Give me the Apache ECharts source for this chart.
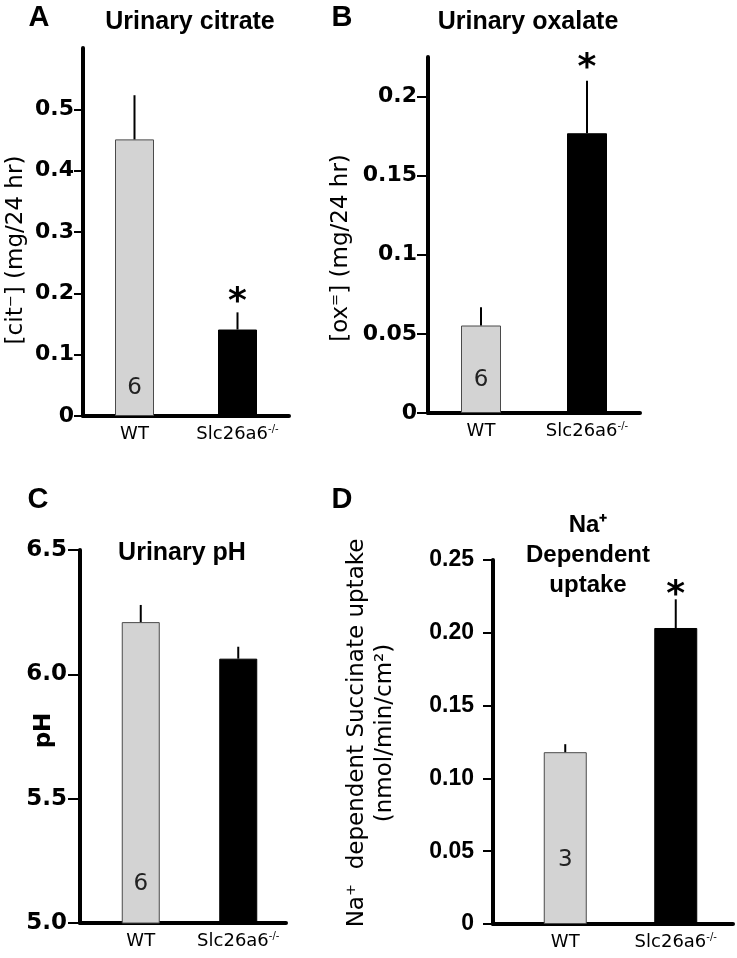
<!DOCTYPE html>
<html>
<head>
<meta charset="utf-8">
<script src="https://cdn.jsdelivr.net/npm/echarts@6/dist/echarts.min.js"></script>
<style>
  html, body { margin: 0; background: #fff; }
  #chart { width: 737px; height: 958px; }
</style>
</head>
<body>
<div id="chart"></div>
<script>
// groups on the x axis
const groups = ['WT', 'Slc26a6-/-'];

// A: urinary citrate (mg/24 hr)
const citrateMean = [0.451, 0.141];
const citrateSem = [0.072, 0.028];
const citrateTicks = [0, 0.1, 0.2, 0.3, 0.4, 0.5];

// B: urinary oxalate (mg/24 hr)
const oxalateMean = [0.0553, 0.1768];
const oxalateSem = [0.0116, 0.0332];
const oxalateTicks = [0, 0.05, 0.1, 0.15, 0.2];

// C: urinary pH
const phMean = [6.21, 6.063];
const phSem = [0.069, 0.048];
const phTicks = [5.0, 5.5, 6.0, 6.5];

// D: Na+ dependent succinate uptake (nmol/min/cm2)
const uptakeMean = [0.118, 0.2033];
const uptakeSem = [0.0055, 0.0197];
const uptakeTicks = [0, 0.05, 0.1, 0.15, 0.2, 0.25];

// n per group and significance marks
const citrateN = ['6', ''];
const oxalateN = ['6', ''];
const phN = ['6', ''];
const uptakeN = ['3', ''];
const citrateSig = [false, true];
const oxalateSig = [false, true];
const phSig = [false, false];
const uptakeSig = [false, true];

const SANS = 'DejaVu Sans';
const ARIAL = 'Liberation Sans';

const panels = [
  {
    frame: [83, 48, 206, 368], bars: [83, 206], min: 0, max: 0.6,
    ticks: citrateTicks, fmt: v => String(v), tickFont: SANS, tickSize: 22, tickLen: 9, margin: 9,
    mean: citrateMean, sem: citrateSem, n: citrateN, sig: citrateSig,
    name: '[cit\u207B] (mg/24 hr)', nameGap: 52, nameBold: false, namePad: [0, 36, 0, 0], nameLH: 30,
    barWidth: 39, nDist: 16, starGap: 17
  },
  {
    frame: [428, 57, 212, 356], bars: [428, 212], min: 0, max: 0.225,
    ticks: oxalateTicks, fmt: v => String(v), tickFont: SANS, tickSize: 22, tickLen: 11, margin: 11,
    mean: oxalateMean, sem: oxalateSem, n: oxalateN, sig: oxalateSig,
    name: '[ox\u207C] (mg/24 hr)', nameGap: 72, nameBold: false, namePad: [0, 26, 0, 0], nameLH: 30,
    barWidth: 40, nDist: 21, starGap: 19
  },
  {
    frame: [80, 550, 206, 373], bars: [92, 195], min: 5, max: 6.5,
    ticks: phTicks, fmt: v => v.toFixed(1), tickFont: SANS, tickSize: 23, tickLen: 12, margin: 13,
    mean: phMean, sem: phSem, n: phN, sig: phSig,
    name: 'pH', nameGap: 21, nameBold: true, namePad: [0, 0, 0, 12], nameLH: 30,
    barWidth: 38, nDist: 28, starGap: 15
  },
  {
    frame: [493, 560, 240, 364], bars: [510, 221], min: 0, max: 0.25,
    ticks: uptakeTicks, fmt: v => (v === 0 ? '0' : v.toFixed(2)), tickFont: ARIAL, tickSize: 23, tickLen: 10, margin: 19,
    mean: uptakeMean, sem: uptakeSem, n: uptakeN, sig: uptakeSig,
    name: 'Na\u207A  dependent Succinate uptake\n(nmol/min/cm\u00B2)', nameGap: 94, nameBold: false, namePad: [0, 0, 0, 18], nameLH: 28,
    barWidth: 43, nDist: 52, starGap: 11
  }
];

const grid = [], xAxis = [], yAxis = [], series = [];

function errorBars(gap) {
  return function (params, api) {
    const x = api.value(0);
    const base = api.coord([x, api.value(1)]);
    const top = api.coord([x, api.value(2)]);
    const kids = [{
      type: 'line',
      shape: { x1: base[0], y1: base[1], x2: top[0], y2: top[1] },
      style: { stroke: '#000', lineWidth: 2 }
    }];
    if (api.value(3)) {
      kids.push({
        type: 'text',
        x: top[0], y: top[1] - gap + 7,
        style: {
          text: '*', fill: '#000', font: 'bold 36px "DejaVu Sans"',
          align: 'center', verticalAlign: 'middle',
          textAlign: 'center', textVerticalAlign: 'middle'
        }
      });
    }
    return { type: 'group', children: kids };
  };
}

panels.forEach(p => {
  const gi = grid.length;
  grid.push({ left: p.frame[0], top: p.frame[1], width: p.frame[2], height: p.frame[3], outerBoundsMode: 'none' });
  grid.push({ left: p.bars[0], top: p.frame[1], width: p.bars[1], height: p.frame[3], outerBoundsMode: 'none' });

  // frame: axis lines, y ticks and y name
  xAxis.push({
    gridIndex: gi, type: 'category', data: groups,
    axisLine: { lineStyle: { color: '#000', width: 4 } },
    axisTick: { show: false }, axisLabel: { show: false }
  });
  yAxis.push({
    gridIndex: gi, type: 'value', min: p.min, max: p.max,
    splitLine: { show: false },
    axisLine: { show: true, lineStyle: { color: '#000', width: 4 } },
    axisTick: { show: true, length: p.tickLen, customValues: p.ticks, lineStyle: { color: '#000', width: 2 } },
    axisLabel: {
      customValues: p.ticks, formatter: p.fmt, margin: p.margin,
      color: '#000', fontFamily: p.tickFont, fontWeight: 'bold', fontSize: p.tickSize
    },
    name: p.name, nameLocation: 'middle', nameRotate: 90, nameGap: p.nameGap,
    nameMoveOverlap: false,
    nameTextStyle: {
      color: '#000', fontFamily: SANS, fontSize: 23, lineHeight: p.nameLH, padding: p.namePad,
      fontWeight: p.nameBold ? 'bold' : 'normal'
    }
  });

  // bars placed through their own category axis
  xAxis.push({
    gridIndex: gi + 1, type: 'category', data: groups,
    axisLine: { show: false }, axisTick: { show: false },
    axisLabel: {
      interval: 0, hideOverlap: false,
      margin: 8, color: '#000', fontFamily: SANS, fontSize: 18, lineHeight: 20,
      formatter: v => (v === 'WT' ? v : 'Slc26a6{s|-/-}'),
      rich: { s: { fontFamily: SANS, fontSize: 10, lineHeight: 20, verticalAlign: 'top', color: '#000' } }
    }
  });
  yAxis.push({ gridIndex: gi + 1, type: 'value', min: p.min, max: p.max, show: false });

  series.push({
    type: 'bar', xAxisIndex: gi + 1, yAxisIndex: gi + 1, barWidth: p.barWidth,
    data: p.mean.map((v, i) => ({
      value: v,
      itemStyle: i === 0
        ? { color: '#d3d3d3', borderColor: '#4a4a4a', borderWidth: 1 }
        : { color: '#000', borderColor: '#000', borderWidth: 1 }
    })),
    label: {
      show: true, position: 'insideBottom', distance: p.nDist,
      formatter: params => p.n[params.dataIndex],
      color: '#222', fontFamily: SANS, fontSize: 23
    }
  });
  series.push({
    type: 'custom', xAxisIndex: gi + 1, yAxisIndex: gi + 1, z: 3,
    renderItem: errorBars(p.starGap),
    data: p.mean.map((v, i) => [i, v, v + p.sem[i], p.sig[i] ? 1 : 0])
  });
});

function label(text, x, y, font) {
  return {
    type: 'text', x: x, y: y,
    style: {
      text: text, fill: '#000', font: font,
      align: 'center', verticalAlign: 'middle',
      textAlign: 'center', textVerticalAlign: 'middle'
    }
  };
}

const letterFont = 'bold 29px "' + ARIAL + '"';
const titleFont = 'bold 25px "' + ARIAL + '"';

const graphic = [
  label('A', 39, 18, letterFont),
  label('B', 342, 18, letterFont),
  label('C', 38, 500, letterFont),
  label('D', 342, 500, letterFont),
  label('Urinary citrate', 190, 22, titleFont),
  label('Urinary oxalate', 528, 22, titleFont),
  label('Urinary pH', 182, 553, titleFont),
  {
    type: 'text', x: 588, y: 555,
    style: {
      text: 'Na\u207A\nDependent\nuptake', fill: '#000',
      font: 'bold 24px "' + ARIAL + '"', lineHeight: 30,
      align: 'center', verticalAlign: 'middle',
      textAlign: 'center', textVerticalAlign: 'middle'
    }
  }
];

const chart = echarts.init(document.getElementById('chart'));
chart.setOption({
  animation: false,
  backgroundColor: '#fff',
  grid: grid,
  xAxis: xAxis,
  yAxis: yAxis,
  series: series,
  graphic: graphic
});
</script>
</body>
</html>
